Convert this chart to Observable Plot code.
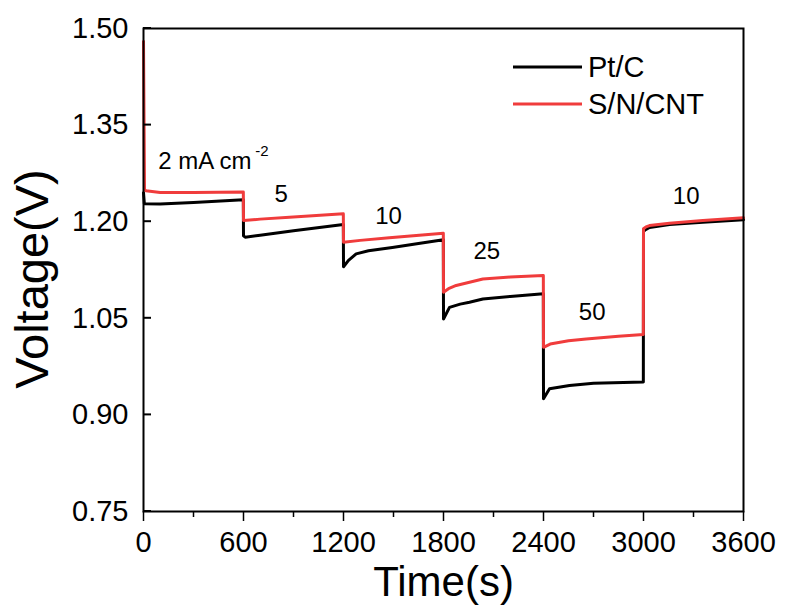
<!DOCTYPE html>
<html><head><meta charset="utf-8">
<script src="https://cdn.jsdelivr.net/npm/d3@7"></script>
<script src="https://cdn.jsdelivr.net/npm/@observablehq/plot@0.6"></script>
<style>
body{margin:0;background:#fff;}
#wrap{position:relative;width:785px;height:608px;font-family:"Liberation Sans",Arial,sans-serif;}
#overlay{position:absolute;left:0;top:0;pointer-events:none;}
</style></head><body><div id="wrap"></div>
<script>
// Pt/C (black) galvanostatic discharge curve
const ptcTime = [0, 5, 100, 300, 599, 600, 610, 700, 900, 1199, 1200, 1230, 1276, 1350, 1493, 1650, 1799, 1800, 1836, 1900, 1956, 2036, 2200, 2399, 2400, 2436, 2556, 2700, 2999, 3000, 3015, 3036, 3156, 3356, 3600];
const ptcVolt = [1.245, 1.228, 1.2275, 1.230, 1.234, 1.178, 1.176, 1.179, 1.186, 1.1957, 1.130, 1.140, 1.150, 1.155, 1.160, 1.166, 1.172, 1.049, 1.067, 1.072, 1.075, 1.080, 1.084, 1.088, 0.925, 0.9405, 0.9457, 0.949, 0.951, 1.185, 1.188, 1.191, 1.1957, 1.199, 1.203];
// S/N/CNT (red)
const sncTime = [0, 6, 15, 100, 300, 599, 600, 700, 876, 1199, 1200, 1300, 1475, 1799, 1800, 1830, 1876, 2036, 2200, 2399, 2400, 2440, 2550, 2656, 2850, 2999, 3000, 3015, 3036, 3156, 3356, 3600];
const sncVolt = [1.48, 1.25, 1.248, 1.2455, 1.2455, 1.246, 1.2018, 1.204, 1.207, 1.2122, 1.168, 1.171, 1.175, 1.182, 1.0906, 1.096, 1.101, 1.111, 1.114, 1.1165, 1.005, 1.010, 1.015, 1.018, 1.022, 1.025, 1.189, 1.192, 1.194, 1.1977, 1.2018, 1.206];

const seriesNames = ["Pt/C", "S/N/CNT"];
const seriesColors = ["#000000", "#f03c3c"];

const xTicks = [0, 600, 1200, 1800, 2400, 3000, 3600];
const xMinorTicks = [300, 900, 1500, 2100, 2700, 3300];
const yTicks = [0.75, 0.90, 1.05, 1.20, 1.35, 1.50];

// current density annotations
const labelText = ["5", "10", "25", "50", "10"];
const labelTime = [826, 1470, 2060, 2692, 3256];
const labelVolt = [1.2422, 1.2081, 1.1537, 1.059, 1.2391];
const firstLabel = ["2 mA cm"];
const firstSup = ["-2"];
const firstTime = [88];
const firstVolt = [1.2935];

const ptc = ptcTime.map((t, i) => ({t, v: ptcVolt[i]}));
const snc = sncTime.map((t, i) => ({t, v: sncVolt[i]}));
const labels = labelText.map((s, i) => ({s, t: labelTime[i], v: labelVolt[i]}));
const first = firstLabel.map((s, i) => ({s, sup: firstSup[i], t: firstTime[i], v: firstVolt[i]}));

const xDomain = [0, 3600];

const chart = Plot.plot({
  width: 785, height: 608,
  marginLeft: 143, marginRight: 42, marginTop: 28, marginBottom: 97,
  style: {fontFamily: "'Liberation Sans', Arial, sans-serif", background: "white", color: "black", overflow: "visible"},
  x: {domain: xDomain},
  y: {domain: [0.75, 1.50]},
  marks: [
    Plot.axisX(xMinorTicks, {tickSize: 6, strokeWidth: 1.5, tickFormat: () => "", label: null}),
    Plot.axisX(xTicks, {tickSize: 10, tickPadding: 10, strokeWidth: 1.5, fontSize: 29, tickFormat: d => String(d), label: null}),
    Plot.axisY(yTicks, {tickSize: 0, tickPadding: 15, fontSize: 29, tickFormat: d3.format(".2f"), label: null}),
    Plot.line(ptc, {x: "t", y: "v", stroke: seriesColors[0], strokeWidth: 3}),
    Plot.line(snc, {x: "t", y: "v", stroke: seriesColors[1], strokeWidth: 3}),
    Plot.frame({stroke: "black", strokeWidth: 2}),
    Plot.text(labels, {x: "t", y: "v", text: "s", fontSize: 24, lineAnchor: "middle"}),
    Plot.text(first, {x: "t", y: "v", text: "s", fontSize: 24, textAnchor: "start", lineAnchor: "middle"}),
    Plot.text(first, {x: "t", y: "v", text: "sup", fontSize: 15, textAnchor: "start", lineAnchor: "middle", dx: 97, dy: -10}),
    Plot.text(["Time(s)"], {frameAnchor: "bottom", fontSize: 42, lineAnchor: "middle", dy: 71}),
    Plot.text(["Voltage(V)"], {frameAnchor: "left", fontSize: 47, rotate: -90, textAnchor: "middle", lineAnchor: "middle", dx: -111, dy: 9})
  ]
});

const wrap = document.getElementById("wrap");
wrap.appendChild(chart);

// overlay: inward y ticks (placed through the chart's own scales) and the legend
const ns = "http://www.w3.org/2000/svg";
const ov = document.createElementNS(ns, "svg");
ov.setAttribute("id", "overlay");
ov.setAttribute("width", 785);
ov.setAttribute("height", 608);
const sx = chart.scale("x"), sy = chart.scale("y");
const x0 = sx.apply(xDomain[0]);
yTicks.forEach(v => {
  const ln = document.createElementNS(ns, "line");
  const py = sy.apply(v);
  ln.setAttribute("x1", x0); ln.setAttribute("x2", x0 + 8);
  ln.setAttribute("y1", py); ln.setAttribute("y2", py);
  ln.setAttribute("stroke", "black"); ln.setAttribute("stroke-width", 2);
  ov.appendChild(ln);
});
const legendRows = [67, 104];
seriesNames.forEach((name, i) => {
  const ln = document.createElementNS(ns, "line");
  ln.setAttribute("x1", 513); ln.setAttribute("x2", 582);
  ln.setAttribute("y1", legendRows[i]); ln.setAttribute("y2", legendRows[i]);
  ln.setAttribute("stroke", seriesColors[i]); ln.setAttribute("stroke-width", 3);
  ov.appendChild(ln);
  const tx = document.createElementNS(ns, "text");
  tx.setAttribute("x", 588); tx.setAttribute("y", legendRows[i] + 10);
  tx.setAttribute("font-size", 29);
  tx.setAttribute("font-family", "'Liberation Sans', Arial, sans-serif");
  tx.setAttribute("fill", "black");
  tx.textContent = name;
  ov.appendChild(tx);
});
wrap.appendChild(ov);
</script></body></html>
